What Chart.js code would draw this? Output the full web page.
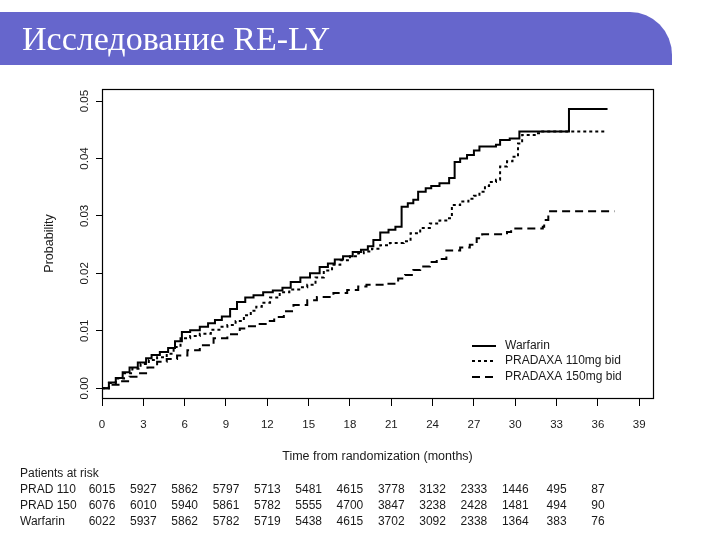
<!DOCTYPE html>
<html>
<head>
<meta charset="utf-8">
<script src="https://cdn.jsdelivr.net/npm/chart.js@4.4.1/dist/chart.umd.min.js"></script>
<style>
  html, body { margin: 0; padding: 0; background: #ffffff; }
  #wrap { position: relative; width: 720px; height: 540px; overflow: hidden; }
  #c { position: absolute; left: 0; top: 0; }
  #banner {
    position: absolute; left: 0; top: 12px; width: 672px; height: 53px;
    background: #6666cc; border-top-right-radius: 42px 43px;
    color: #ffffff; font-family: "Liberation Serif", "DejaVu Serif", serif;
    font-size: 34px; line-height: 53px; padding-left: 22px; box-sizing: border-box;
    white-space: nowrap;
  }
</style>
</head>
<body>
<div id="wrap">
  <canvas id="c" width="720" height="540"></canvas>
  <div id="banner">Исследование RE-LY</div>
</div>
<script>
// ---------------- data ----------------
const seriesNames = ["Warfarin", "PRADAXA 110mg bid", "PRADAXA 150mg bid"];

const warfarinMonths = [0,0.5,1.0,1.5,2.0,2.6,3.2,3.6,4.2,4.8,5.3,5.8,6.4,7.1,7.7,8.2,8.7,9.3,9.8,10.4,11.0,11.7,12.4,13.1,13.7,14.4,15.1,15.8,16.4,16.9,17.5,18.2,18.8,19.3,19.7,20.2,20.8,21.3,21.75,22.2,22.6,22.95,23.5,23.9,24.5,25.2,25.6,26.0,26.5,27.0,27.4,28.6,28.9,29.6,30.3,33.9,36.7];
const warfarinProb   = [0,0.0010,0.0018,0.0028,0.0036,0.0045,0.0052,0.0058,0.0063,0.0070,0.0082,0.0098,0.0101,0.0107,0.0113,0.0119,0.0125,0.0138,0.0150,0.0158,0.0162,0.0167,0.0170,0.0175,0.0185,0.0193,0.0200,0.0211,0.0217,0.0224,0.0230,0.0237,0.0241,0.0247,0.0258,0.0271,0.0276,0.0281,0.0316,0.0322,0.0328,0.0342,0.0348,0.0352,0.0357,0.0366,0.0394,0.0400,0.0406,0.0414,0.0421,0.0424,0.0432,0.0435,0.0447,0.0486,0.0486];

const prad110Months = [0,0.5,1.0,1.6,2.2,2.8,3.4,4.0,4.7,5.2,5.7,6.4,7.1,7.9,8.6,9.1,9.7,10.3,10.8,11.2,11.6,12.2,12.9,13.6,14.4,14.9,15.5,16.1,16.7,17.3,18.0,18.6,19.0,19.6,20.2,20.9,21.9,22.4,23.1,23.8,24.5,25.1,25.4,26.0,26.6,27.0,27.4,27.8,28.1,28.6,28.9,29.4,29.8,30.2,30.5,31.5,31.8,36.5];
const prad110Prob   = [0,0.0009,0.0017,0.0026,0.0034,0.0042,0.0049,0.0054,0.0060,0.0072,0.0087,0.0091,0.0095,0.0102,0.0107,0.0110,0.0117,0.0127,0.0135,0.0142,0.0149,0.0158,0.0167,0.0172,0.0176,0.0180,0.0193,0.0205,0.0215,0.0223,0.0230,0.0235,0.0238,0.0243,0.0249,0.0253,0.0256,0.0270,0.0279,0.0287,0.0292,0.0296,0.0319,0.0325,0.0330,0.0335,0.0342,0.0352,0.0359,0.0363,0.0386,0.0395,0.0403,0.0426,0.0441,0.0444,0.0447,0.0447];

const prad150Months = [0,0.5,1.2,2.0,2.6,3.3,4.0,4.7,5.45,6.2,7.1,8.1,9.1,10.0,10.5,11.2,12.0,12.5,13.2,13.9,14.9,15.6,16.8,17.8,18.6,19.2,20.6,21.5,22.0,22.6,23.1,23.8,24.3,25.0,26.0,26.7,27.2,27.6,29.4,29.7,32.0,32.1,32.4,37.2];
const prad150Prob   = [0,0.0006,0.0012,0.0020,0.0026,0.0036,0.0046,0.0051,0.0057,0.0066,0.0075,0.0087,0.0094,0.0104,0.0108,0.0112,0.0117,0.0124,0.0134,0.0145,0.0153,0.0159,0.0166,0.0171,0.0177,0.0180,0.0182,0.0191,0.0197,0.0206,0.0212,0.0220,0.0225,0.0240,0.0245,0.0250,0.0261,0.0268,0.0272,0.0278,0.0281,0.0293,0.0308,0.0308];

const xTickValues = [0,3,6,9,12,15,18,21,24,27,30,33,36,39];
const xTickLabels = ["0","3","6","9","12","15","18","21","24","27","30","33","36","39"];
const yTickValues = [0,0.01,0.02,0.03,0.04,0.05];
const yTickLabels = ["0.00","0.01","0.02","0.03","0.04","0.05"];

const riskTitle = "Patients at risk";
const riskRowLabels = ["PRAD 110", "PRAD 150", "Warfarin"];
const riskMonths = [0,3,6,9,12,15,18,21,24,27,30,33,36];
const riskPrad110  = [6015,5927,5862,5797,5713,5481,4615,3778,3132,2333,1446,495,87];
const riskPrad150  = [6076,6010,5940,5861,5782,5555,4700,3847,3238,2428,1481,494,90];
const riskWarfarin = [6022,5937,5862,5782,5719,5438,4615,3702,3092,2338,1364,383,76];

const xTitle = "Time from randomization (months)";
const yTitle = "Probability";

// ---------------- helpers ----------------
const toPts = (xs, ys) => xs.map((x, i) => ({ x: x, y: ys[i] }));
const FONT = '"Liberation Sans", Arial, sans-serif';
const TEXT = '#1a1a1a';

const framePlugin = {
  id: 'frame',
  beforeDatasetsDraw(chart) {
    const a = chart.chartArea, ctx = chart.ctx;
    ctx.save();
    ctx.strokeStyle = '#000';
    ctx.lineWidth = 1.2;
    ctx.strokeRect(Math.round(a.left) + 0.5, Math.round(a.top) + 0.5,
                   Math.round(a.right - a.left), Math.round(a.bottom - a.top));
    ctx.restore();
  },
  afterDraw(chart) {
    const ctx = chart.ctx, xs = chart.scales.x, ys = chart.scales.y, a = chart.chartArea;
    ctx.save();
    ctx.fillStyle = TEXT;
    // x tick labels
    ctx.font = '11.5px ' + FONT;
    ctx.textAlign = 'center';
    ctx.textBaseline = 'middle';
    xTickValues.forEach((v, i) => ctx.fillText(xTickLabels[i], xs.getPixelForValue(v), 425));
    // y tick labels (rotated)
    yTickValues.forEach((v, i) => {
      ctx.save();
      ctx.translate(85, ys.getPixelForValue(v));
      ctx.rotate(-Math.PI / 2);
      ctx.fillText(yTickLabels[i], 0, 0);
      ctx.restore();
    });
    // axis titles
    ctx.font = '12.5px ' + FONT;
    ctx.fillText(xTitle, (a.left + a.right) / 2, 457);
    ctx.save();
    ctx.translate(50, (a.top + a.bottom) / 2);
    ctx.rotate(-Math.PI / 2);
    ctx.fillText(yTitle, 0, 0);
    ctx.restore();

    // legend
    const ds = chart.data.datasets;
    const ly = [346, 361, 377];
    ctx.font = '12px ' + FONT;
    ctx.textAlign = 'left';
    ds.forEach((d, i) => {
      ctx.save();
      ctx.strokeStyle = d.borderColor;
      ctx.lineWidth = d.borderWidth;
      ctx.setLineDash(d.borderDash || []);
      ctx.beginPath();
      ctx.moveTo(472, ly[i]);
      ctx.lineTo(496, ly[i]);
      ctx.stroke();
      ctx.restore();
      ctx.fillText(d.label, 505, ly[i]);
    });

    // risk table (bottom row is cut off by the slide edge in the reference)
    ctx.save();
    ctx.beginPath();
    ctx.rect(0, 460, 720, 65);
    ctx.clip();
    ctx.font = '12px ' + FONT;
    ctx.textAlign = 'left';
    ctx.fillText(riskTitle, 20, 474);
    const rows = [riskPrad110, riskPrad150, riskWarfarin];
    const rowY = [490, 506, 522];
    rows.forEach((r, ri) => {
      ctx.textAlign = 'left';
      ctx.fillText(riskRowLabels[ri], 20, rowY[ri]);
      ctx.textAlign = 'center';
      r.forEach((n, ci) => ctx.fillText(String(n), xs.getPixelForValue(riskMonths[ci]), rowY[ri]));
    });
    ctx.restore();
    ctx.restore();
  }
};

const bgPlugin = {
  id: 'bg',
  beforeDraw(chart) {
    const ctx = chart.ctx;
    ctx.save();
    ctx.fillStyle = '#ffffff';
    ctx.fillRect(0, 0, chart.width, chart.height);
    ctx.restore();
  }
};

new Chart(document.getElementById('c'), {
  type: 'line',
  data: {
    datasets: [
      { label: seriesNames[0], data: toPts(warfarinMonths, warfarinProb),
        borderColor: '#000', borderWidth: 2, stepped: true, pointRadius: 0, fill: false },
      { label: seriesNames[1], data: toPts(prad110Months, prad110Prob),
        borderColor: '#000', borderWidth: 2, borderDash: [3, 3], stepped: true, pointRadius: 0, fill: false },
      { label: seriesNames[2], data: toPts(prad150Months, prad150Prob),
        borderColor: '#000', borderWidth: 2, borderDash: [8, 5], stepped: true, pointRadius: 0, fill: false }
    ]
  },
  options: {
    responsive: false,
    animation: false,
    events: [],
    layout: { padding: { left: 92, top: 89, right: 67, bottom: 132 } },
    plugins: { legend: { display: false }, tooltip: { enabled: false }, title: { display: false } },
    scales: {
      x: {
        type: 'linear', min: 0, max: 40,
        afterBuildTicks: s => { s.ticks = xTickValues.map(v => ({ value: v })); },
        afterFit: s => { s.height = 10; },
        grid: { display: true, drawOnChartArea: false, drawTicks: true, tickLength: 8, color: '#000', lineWidth: 1 },
        border: { display: false },
        ticks: { display: false }
      },
      y: {
        type: 'linear', min: -0.0017, max: 0.0521,
        afterBuildTicks: s => { s.ticks = yTickValues.map(v => ({ value: v })); },
        afterFit: s => { s.width = 10; },
        grid: { display: true, drawOnChartArea: false, drawTicks: true, tickLength: 6, color: '#000', lineWidth: 1 },
        border: { display: false },
        ticks: { display: false }
      }
    }
  },
  plugins: [bgPlugin, framePlugin]
});
</script>
</body>
</html>
